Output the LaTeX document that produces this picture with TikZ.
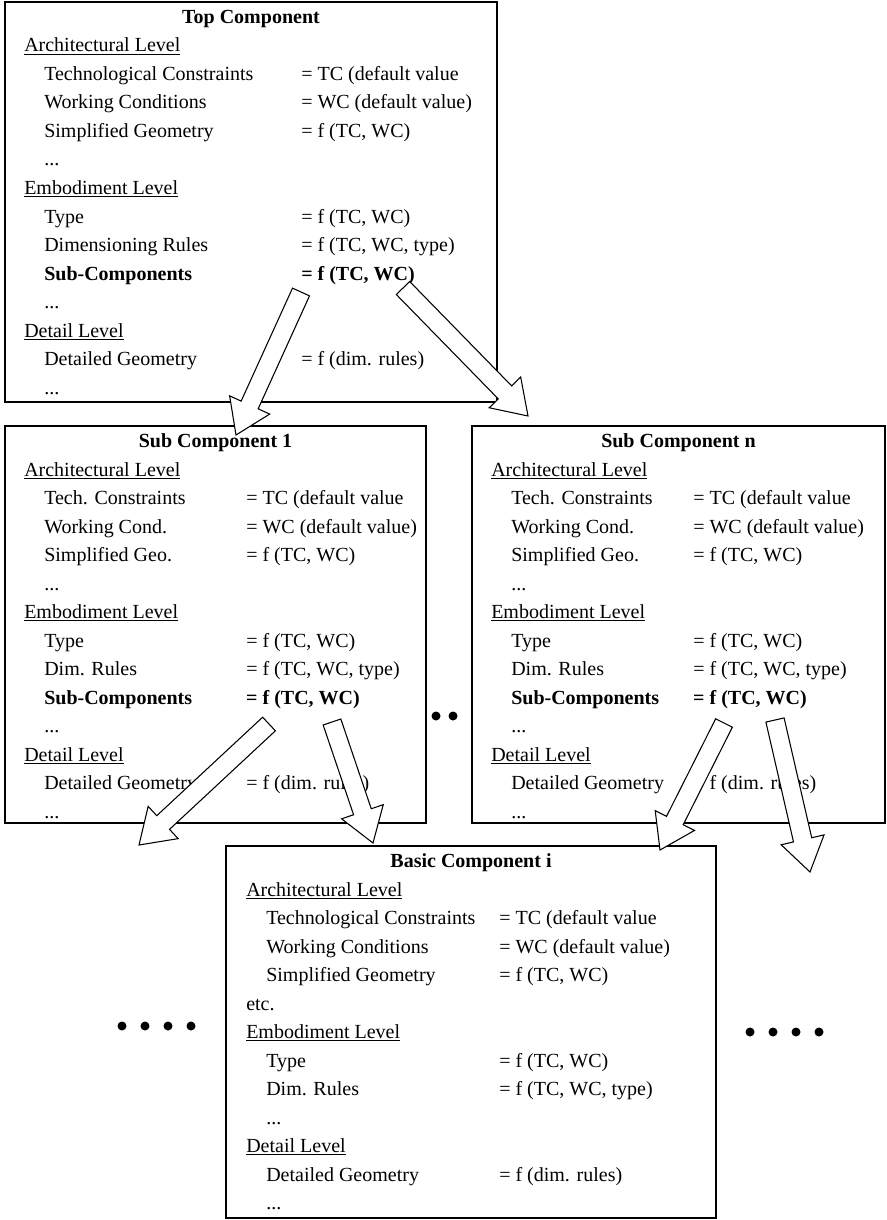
\documentclass[tikz,border=0pt]{standalone}
\usepackage{fontspec}
\setmainfont{Liberation Serif}
\usetikzlibrary{calc}

\tikzset{
  compbox/.style={draw, line width=1.5pt, inner sep=0pt},
  comptitle/.style={inner sep=0pt, anchor=base, font=\fontsize{15}{18}\selectfont\bfseries},
  rowtext/.style={inner sep=0pt, anchor=base west, font=\fontsize{15}{18}\selectfont},
  blockarr/.style={draw, fill=white, line width=0.8pt, line join=miter},
}

% rows of one component box: box name, value column, list of indent/label/value
\newcommand{\fillbox}[3]{%
  \begin{scope}[shift={(#1.north west)}]
    \foreach \x/\lab/\val [count=\i, evaluate=\x as \w using (#2-\x)*0.75] in {#3}
      \node[rowtext] (#1-\i) at (\x,22.5+28.5*\i) {\makebox[\w pt][l]{\lab}\val};
  \end{scope}}

% hollow block arrow from (name-tail) to (name-tip)
\newcommand{\blockarrow}[1]{%
  \coordinate (#1-base) at ($(#1-tip)!24.75pt!(#1-tail)$);
  \draw[blockarr] ($(#1-tail)!7pt!90:(#1-tip)$) -- ($(#1-base)!7pt!90:(#1-tip)$)
    -- ($(#1-base)!16.5pt!90:(#1-tip)$) -- (#1-tip)
    -- ($(#1-base)!16.5pt!-90:(#1-tip)$) -- ($(#1-base)!7pt!-90:(#1-tip)$)
    -- ($(#1-tail)!7pt!-90:(#1-tip)$) -- cycle;}

\begin{document}
\begin{tikzpicture}[x=0.75pt,y=0.75pt,yscale=-1,xscale=1]
\useasboundingbox (0,0) rectangle (886,1220);

%Boxes
\node[compbox, minimum width=369pt, minimum height=300pt] (top) at (251,202) {};
\node[compbox, minimum width=315.75pt, minimum height=297.75pt] (sub1) at (215.5,624.5) {};
\node[compbox, minimum width=309.75pt, minimum height=297.75pt] (subn) at (678.5,624.5) {};
\node[compbox, minimum width=367.5pt, minimum height=279pt] (basic) at (471,1032) {};

%Titles
\node[comptitle] (top-title) at ($(top.north)+(0,22.5)$) {Top Component};
\node[comptitle] (sub1-title) at ($(sub1.north)+(0,22.5)$) {Sub Component 1};
\node[comptitle] (subn-title) at ($(subn.north)+(0,22.5)$) {Sub Component n};
\node[comptitle] (basic-title) at ($(basic.north)+(0,22.5)$) {Basic Component i};

%Top component
\fillbox{top}{297}{
  20/{\underline{Architectural Level}}/{},
  40/{Technological Constraints}/{= TC (default value},
  40/{Working Conditions}/{= WC (default value)},
  40/{Simplified Geometry}/{= f (TC, WC)},
  40/{...}/{},
  20/{\underline{Embodiment Level}}/{},
  40/{Type}/{= f (TC, WC)},
  40/{Dimensioning Rules}/{= f (TC, WC, type)},
  40/{\textbf{Sub-Components}}/{\textbf{= f (TC, WC)}},
  40/{...}/{},
  20/{\underline{Detail Level}}/{},
  40/{Detailed Geometry}/{= f (dim. rules)},
  40/{...}/{}}

%Sub components
\fillbox{sub1}{242}{
  20/{\underline{Architectural Level}}/{},
  40/{Tech. Constraints}/{= TC (default value},
  40/{Working Cond.}/{= WC (default value)},
  40/{Simplified Geo.}/{= f (TC, WC)},
  40/{...}/{},
  20/{\underline{Embodiment Level}}/{},
  40/{Type}/{= f (TC, WC)},
  40/{Dim. Rules}/{= f (TC, WC, type)},
  40/{\textbf{Sub-Components}}/{\textbf{= f (TC, WC)}},
  40/{...}/{},
  20/{\underline{Detail Level}}/{},
  40/{Detailed Geometry}/{= f (dim. rules)},
  40/{...}/{}}
\fillbox{subn}{222}{
  20/{\underline{Architectural Level}}/{},
  40/{Tech. Constraints}/{= TC (default value},
  40/{Working Cond.}/{= WC (default value)},
  40/{Simplified Geo.}/{= f (TC, WC)},
  40/{...}/{},
  20/{\underline{Embodiment Level}}/{},
  40/{Type}/{= f (TC, WC)},
  40/{Dim. Rules}/{= f (TC, WC, type)},
  40/{\textbf{Sub-Components}}/{\textbf{= f (TC, WC)}},
  40/{...}/{},
  20/{\underline{Detail Level}}/{},
  40/{Detailed Geometry}/{= f (dim. rules)},
  40/{...}/{}}

%Basic component
\fillbox{basic}{274}{
  21/{\underline{Architectural Level}}/{},
  41/{Technological Constraints}/{= TC (default value},
  41/{Working Conditions}/{= WC (default value)},
  41/{Simplified Geometry}/{= f (TC, WC)},
  21/{etc.}/{},
  21/{\underline{Embodiment Level}}/{},
  41/{Type}/{= f (TC, WC)},
  41/{Dim. Rules}/{= f (TC, WC, type)},
  41/{...}/{},
  21/{\underline{Detail Level}}/{},
  41/{Detailed Geometry}/{= f (dim. rules)},
  41/{...}/{}}

%Arrows
\coordinate (a1-tail) at (301,292); \coordinate (a1-tip) at (236,435);
\coordinate (a2-tail) at (403,288); \coordinate (a2-tip) at (528,416);
\coordinate (a3-tail) at (269,724); \coordinate (a3-tip) at (139,845);
\coordinate (a4-tail) at (332,722); \coordinate (a4-tip) at (373,843);
\coordinate (a5-tail) at (724,723); \coordinate (a5-tip) at (660,850);
\coordinate (a6-tail) at (775,720); \coordinate (a6-tip) at (810,872);
\foreach \a in {a1,a2,a3,a4,a5,a6} {\blockarrow{\a}}

%Dots
\foreach \px in {436,453} \fill (\px,716) circle (4.5);
\foreach \px in {122,145,168,191} \fill (\px,1026) circle (4.5);
\foreach \px in {750,773,796,819} \fill (\px,1032) circle (4.5);

\end{tikzpicture}
\end{document}
